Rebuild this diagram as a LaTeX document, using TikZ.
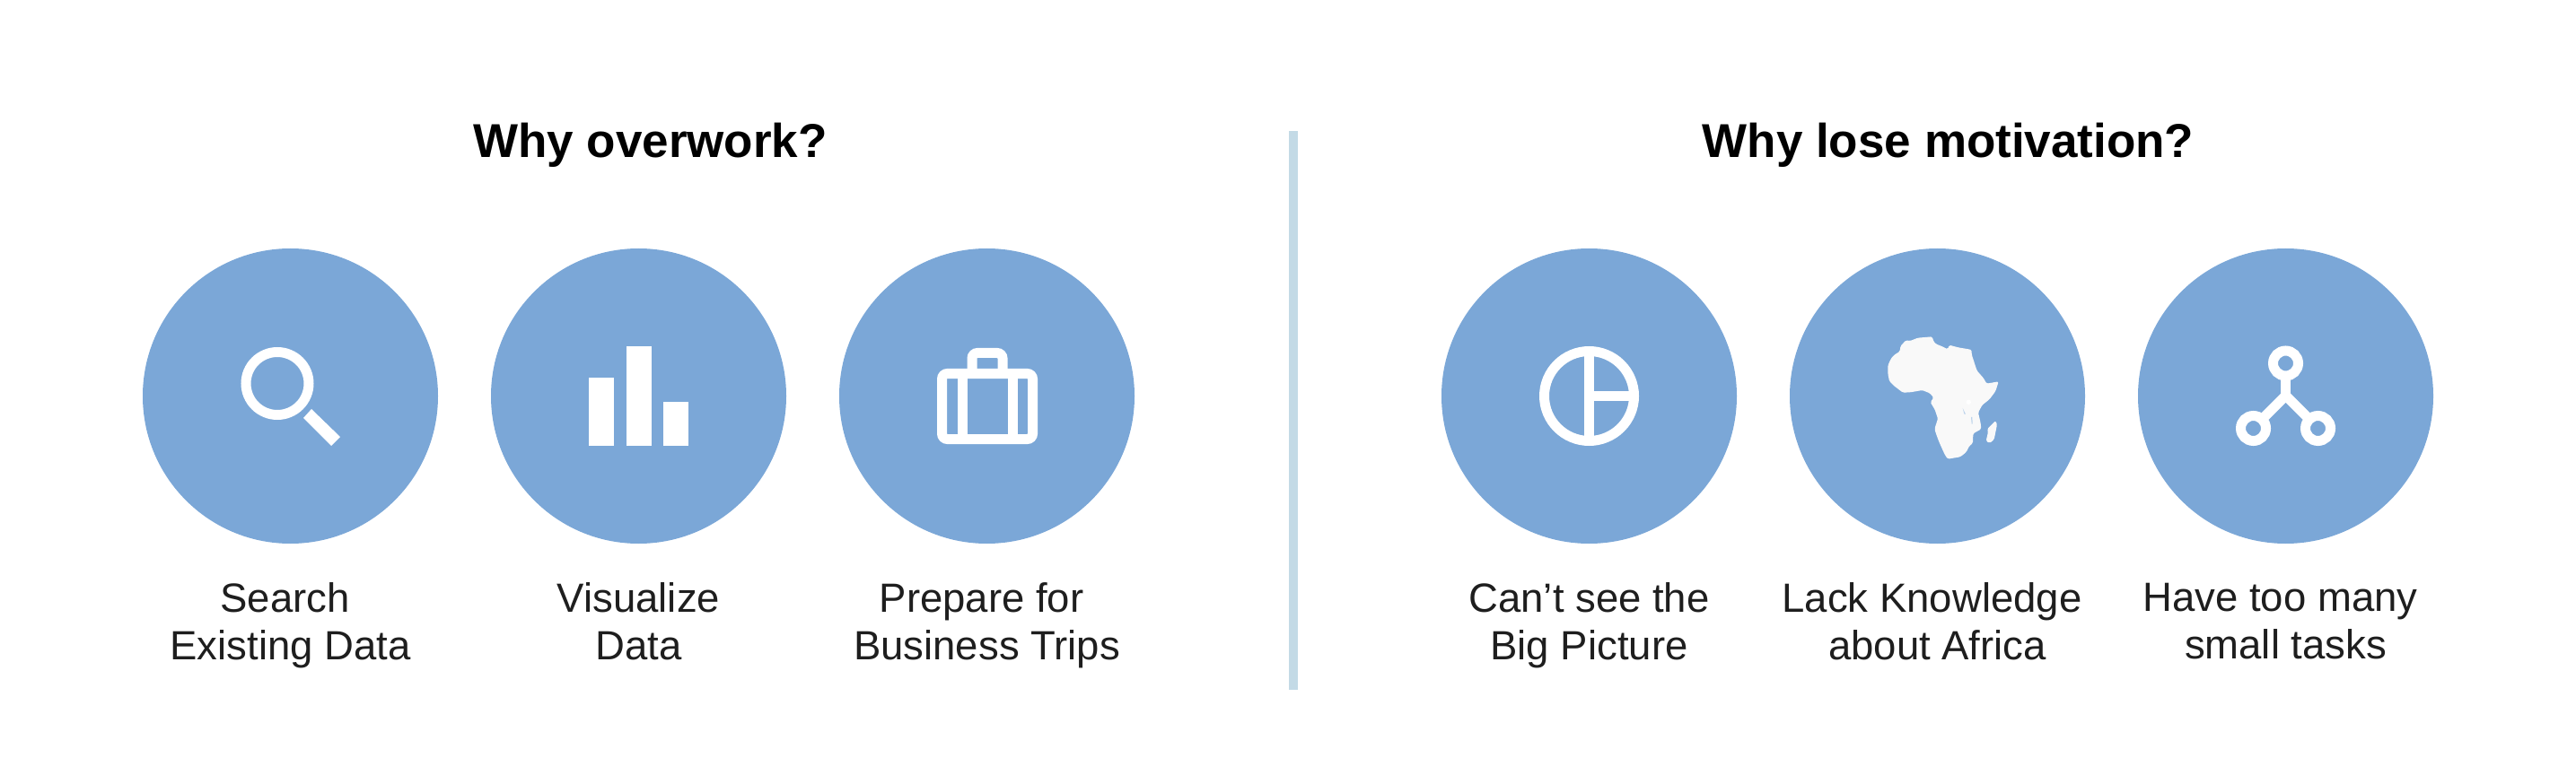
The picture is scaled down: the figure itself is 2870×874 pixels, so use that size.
\documentclass[tikz,border=0pt]{standalone}
\usepackage{fontspec}
\setmainfont{Liberation Sans}
\usepackage{xcolor}
\definecolor{mblue}{RGB}{123,167,215}
\definecolor{mline}{RGB}{195,218,230}
\definecolor{mland}{RGB}{249,249,249}
\definecolor{mtext}{RGB}{30,30,30}
\begin{document}
\begin{tikzpicture}[
  x=1pt, y=-1pt,
  disc/.style={circle, fill=mblue, minimum size=329pt, inner sep=0pt},
  head/.style={font=\fontsize{53}{60}\selectfont\bfseries, inner sep=0pt, anchor=base},
  caption/.style={font=\fontsize{45.5}{53}\selectfont, text=mtext, align=center, inner sep=0pt, anchor=north, execute at begin node=\strut},
  glyph/.style={draw=white, line width=11pt},
  solid/.style={fill=white},
]
\useasboundingbox (0,0) rectangle (2870,874);

\node[head] (why1) at (724.5,176) {Why overwork?};
\node[head] (why2) at (2170.5,176) {Why lose motivation?};
\fill[mline] (1436,146) rectangle (1446,769);

\node[disc] (search) at (323.5,441.5) {};
\node[disc] (vis) at (711.5,441.5) {};
\node[disc] (trip) at (1099.5,441.5) {};
\node[disc] (pic) at (1770.5,441.5) {};
\node[disc] (africa) at (2158.5,441.5) {};
\node[disc] (tasks) at (2546.5,441.5) {};

\node[caption] (lsearch) at (323.5,649.5) {Search\hspace*{12pt}\\Existing Data};
\node[caption] (lvis) at (711.5,649.5) {Visualize\\Data};
\node[caption] (ltrip) at (1099.5,649.5) {Prepare for\hspace*{12pt}\\Business Trips};
\node[caption] (lpic) at (1770.5,649.5) {Can’t see the\\Big Picture};
\node[caption] (lafrica) at (2158.5,649.5) {Lack Knowledge\hspace*{12pt}\\about Africa};
\node[caption] (ltasks) at (2546.5,649.5) {Have too many\hspace*{12pt}\\small tasks};

\draw[glyph] (309,427.5) circle (35);
\fill[solid] (347,456) -- (379,487) -- (369,497) -- (338,466) -- cycle;

\fill[solid] (656,421) rectangle (684,497);
\fill[solid] (698,386) rectangle (726,497);
\fill[solid] (739,448) rectangle (767,497);

\draw[glyph, rounded corners=6pt] (1049.5,416.5) rectangle (1150.5,489.5);
\draw[glyph, rounded corners=6pt] (1083,416.5) -- (1083,393.5) -- (1117,393.5) -- (1117,416.5);
\draw[glyph] (1072,416.5) -- (1072,489.5);
\draw[glyph] (1128,416.5) -- (1128,489.5);

\draw[glyph] (1770.5,441.5) circle (50);
\draw[glyph] (1770.5,391.5) -- (1770.5,491.5);
\draw[glyph] (1770.5,441.5) -- (1820.5,441.5);

\begin{scope}[shift={(2060,350)}, scale=1/3]
\fill[mland, rounded corners=1.5pt] (130,172) -- (140,150) -- (150,138) -- (170,125) -- (172,108) -- (190,88) -- (205,90) -- (230,80) -- (278,76) -- (283,92) -- (290,100) -- (310,108) -- (330,118) -- (335,104) -- (365,112) -- (395,117) -- (410,120) -- (410,135) -- (418,160) -- (428,190) -- (450,215) -- (460,233) -- (500,226) -- (490,258) -- (470,285) -- (445,305) -- (432,330) -- (440,365) -- (442,385) -- (415,400) -- (414,432) -- (402,442) -- (392,462) -- (372,478) -- (330,485) -- (320,470) -- (305,437) -- (296,415) -- (286,385) -- (297,350) -- (287,320) -- (272,295) -- (283,280) -- (270,265) -- (245,255) -- (205,262) -- (180,263) -- (150,240) -- (135,225) -- (130,200) -- cycle;
\fill[mland, rounded corners=1.5pt] (490,357) -- (495,370) -- (485,420) -- (470,432) -- (458,425) -- (465,395) -- (462,385) -- cycle;
\fill[white] (400,295) circle (8);
\fill[mblue!50] (380,315) -- (390,335) -- (385,335) -- cycle;
\fill[mblue!50] (408,345) -- (412,345) -- (413,368) -- (410,368) -- cycle;
\end{scope}

\draw[glyph] (2546.5,441) -- (2546.5,405);
\draw[glyph] (2510.5,477) -- (2546.5,441) -- (2582.5,477);
\filldraw[glyph, fill=mblue] (2546.5,405) circle (14);
\filldraw[glyph, fill=mblue] (2510.5,477.5) circle (14);
\filldraw[glyph, fill=mblue] (2582.5,477.5) circle (14);
\end{tikzpicture}
\end{document}
